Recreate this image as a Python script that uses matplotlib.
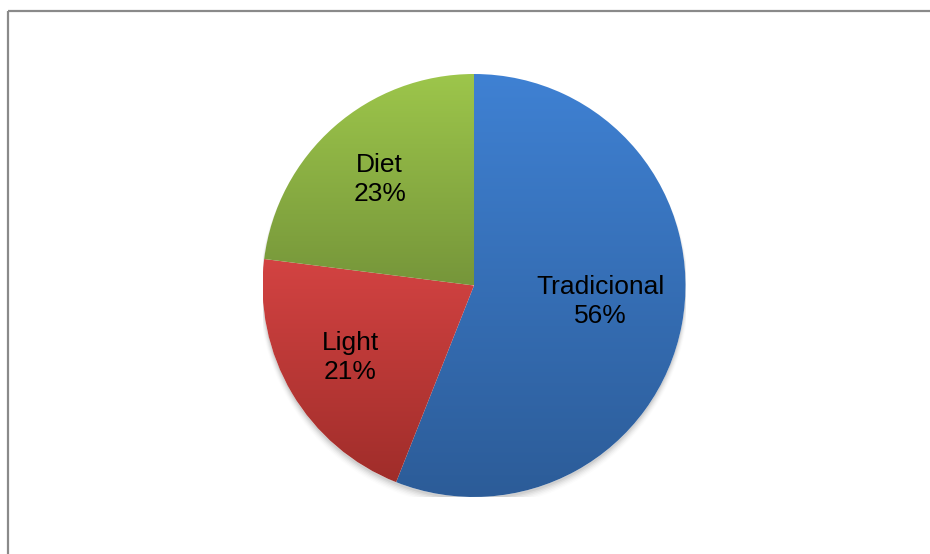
import numpy as np
import matplotlib
matplotlib.use("Agg")
import matplotlib.pyplot as plt
from matplotlib.colors import LinearSegmentedColormap
from matplotlib.lines import Line2D
from matplotlib.patches import Circle
from matplotlib.transforms import offset_copy

labels = ["Tradicional", "Light", "Diet"]
values = [56, 21, 23]
top_colors = ["#3F81D3", "#D34342", "#9DC64B"]
bottom_colors = ["#2C5C98", "#A02D2A", "#76963A"]
label_dist = [0.61, 0.68, 0.675]
label_shift_px = [(0, 8), (0, 1), (0, -1)]

W, H = 930, 554
fig = plt.figure(figsize=(W / 100, H / 100), dpi=100)
fig.patch.set_facecolor("white")

cx, cy, r = 474, 285.5, 211.5
ax = fig.add_axes([(cx - r) / W, (H - cy - r) / H, 2 * r / W, 2 * r / H])
ax.set_xlim(-1, 1)
ax.set_ylim(-1, 1)
ax.set_aspect("equal")
ax.axis("off")

# soft shadow
for k, a in enumerate(np.linspace(0.05, 0.012, 6)):
    ax.add_patch(Circle((0, -0.012 - k * 0.004), 1.0 + k * 0.003, color="black",
                        alpha=a, lw=0, zorder=0))
ax.add_patch(Circle((0, 0), 1.0, color="white", lw=0, zorder=0.5))

wedges, _ = ax.pie(values, startangle=90, counterclock=False, radius=1,
                   wedgeprops=dict(linewidth=0), frame=False)
ax.set_xlim(-1, 1)
ax.set_ylim(-1, 1)

grad = np.linspace(1, 0, 256).reshape(-1, 1)
for w, tc, bc in zip(wedges, top_colors, bottom_colors):
    w.set_facecolor("none")
    w.set_zorder(2)
    verts = w.get_path().vertices
    x0, x1 = verts[:, 0].min(), verts[:, 0].max()
    y0, y1 = verts[:, 1].min(), verts[:, 1].max()
    cmap = LinearSegmentedColormap.from_list("g", [bc, tc])
    im = ax.imshow(grad, cmap=cmap, extent=[x0, x1, y0, y1], origin="upper",
                   aspect="auto", zorder=1, interpolation="bilinear")
    im.set_clip_path(w)

ax.set_xlim(-1, 1)
ax.set_ylim(-1, 1)

total = sum(values)
start = 90.0
for lab, v, d, (sx, sy) in zip(labels, values, label_dist, label_shift_px):
    span = 360.0 * v / total
    mid = np.deg2rad(start - span / 2)
    start -= span
    tr = offset_copy(ax.transData, fig=fig, x=sx, y=sy, units="dots")
    ax.text(d * np.cos(mid), d * np.sin(mid), f"{lab}\n{v}%", ha="center", va="center",
            fontsize=19, family="Liberation Sans", color="black", linespacing=1.25,
            zorder=5, transform=tr)

# frame
fig.add_artist(Line2D([7.5 / W, 1.0], [1 - 10.5 / H, 1 - 10.5 / H], color="#8A8A8A", lw=1.6,
                      transform=fig.transFigure, solid_capstyle="butt"))
fig.add_artist(Line2D([7.5 / W, 7.5 / W], [0, 1 - 10.5 / H], color="#8A8A8A", lw=1.6,
                      transform=fig.transFigure, solid_capstyle="butt"))

fig.savefig("out.png", dpi=100, facecolor="white")
